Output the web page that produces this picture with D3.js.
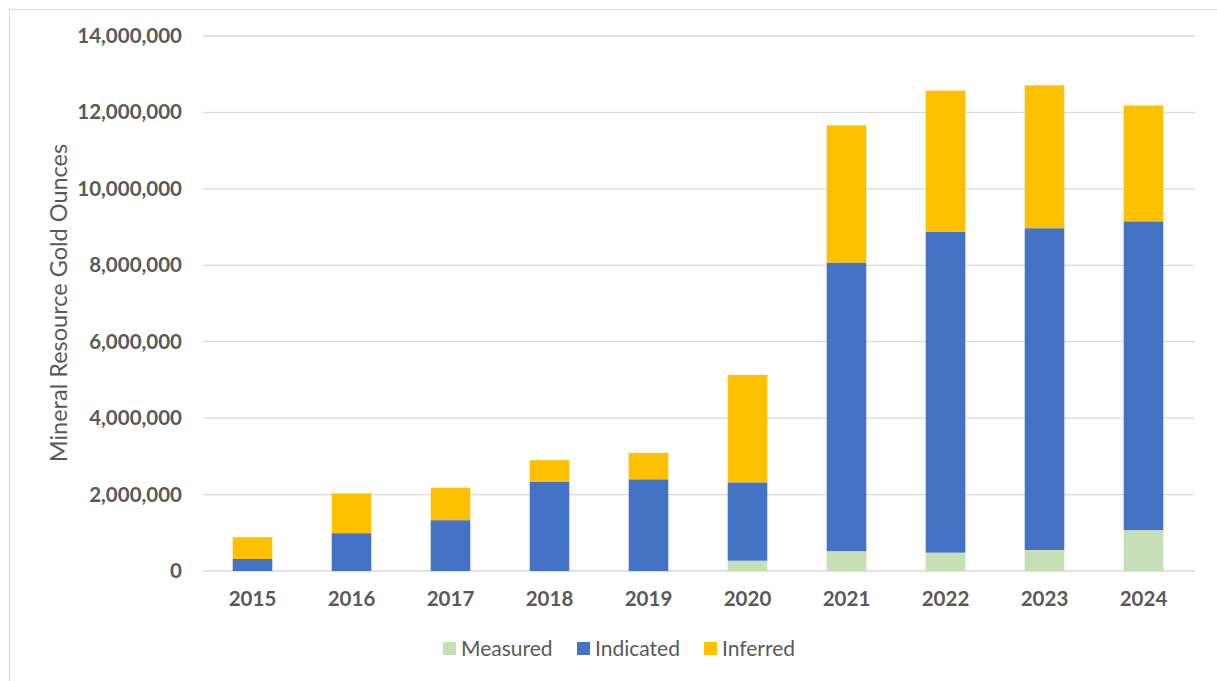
<!DOCTYPE html>
<html><head><meta charset="utf-8">
<script src="https://cdn.jsdelivr.net/npm/d3@7"></script>
<style>body{margin:0;background:#fff;}svg{display:block;}</style>
</head><body>
<svg id="c" width="1217" height="681"></svg>
<script>
const years = ["2015","2016","2017","2018","2019","2020","2021","2022","2023","2024"];
const measured  = [0, 0, 0, 0, 0, 270000, 520000, 480000, 550000, 1070000];
const indicated = [315000, 990000, 1330000, 2340000, 2400000, 2050000, 7550000, 8400000, 8420000, 8080000];
const inferred  = [570000, 1040000, 850000, 560000, 690000, 2810000, 3590000, 3690000, 3740000, 3030000];
const yTicks = [0, 2000000, 4000000, 6000000, 8000000, 10000000, 12000000, 14000000];
const seriesNames = ["Measured", "Indicated", "Inferred"];
const colors = ["#C5E0B4", "#4472C4", "#FFC000"];

const svg = d3.select("#c");
const L = 203, R = 1193, T = 36, B = 571;
const txt = "#595959", font = "Lato, 'Open Sans', sans-serif";

svg.append("rect").attr("x",9.5).attr("y",9.5).attr("width",1217).attr("height",700)
  .attr("fill","none").attr("stroke","#D9D9D9");

const x = d3.scaleBand().domain(years).range([L, R]).paddingInner(0.6).paddingOuter(0.3);
const y = d3.scaleLinear().domain([0, 14000000]).range([B, T]);

// gridlines
svg.append("g").selectAll("line").data(yTicks).join("line")
  .attr("x1", L).attr("x2", R + 2).attr("y1", d => y(d)).attr("y2", d => y(d))
  .attr("stroke", "#D9D9D9").attr("stroke-width", 1.3);

// y axis labels
const yAxis = d3.axisLeft(y).tickValues(yTicks).tickFormat(d3.format(",")).tickSize(0).tickPadding(21);
const gy = svg.append("g").attr("transform", `translate(${L},0)`).call(yAxis);
gy.select(".domain").remove();
gy.selectAll("text").attr("fill", txt).style("font-family", font).style("font-size", "20.5px").style("font-weight", "bold");

// x axis labels
const xAxis = d3.axisBottom(x).tickSize(0).tickPadding(20);
const gx = svg.append("g").attr("transform", `translate(0,${B})`).call(xAxis);
gx.select(".domain").remove();
gx.selectAll("text").attr("fill", txt).style("font-family", font).style("font-size", "20.5px").style("font-weight", "bold");

// stacked bars
const rows = years.map((yr, i) => ({year: yr, Measured: measured[i], Indicated: indicated[i], Inferred: inferred[i]}));
const stack = d3.stack().keys(seriesNames)(rows);
svg.append("g").selectAll("g").data(stack).join("g")
  .attr("fill", (d, i) => colors[i])
  .selectAll("rect").data(d => d).join("rect")
  .attr("x", d => x(d.data.year))
  .attr("width", x.bandwidth())
  .attr("y", d => y(d[1]))
  .attr("height", d => Math.max(0, y(d[0]) - y(d[1])));

// y axis title
svg.append("text").attr("transform", "translate(67,303) rotate(-90)")
  .attr("text-anchor", "middle").attr("fill", txt)
  .style("font-family", font).style("font-size", "23.5px")
  .text("Mineral Resource Gold Ounces");

// legend
const legX = [443, 577, 704];
const lg = svg.append("g").selectAll("g").data(seriesNames).join("g")
  .attr("transform", (d, i) => `translate(${legX[i]},642)`);
lg.append("rect").attr("width", 13).attr("height", 13).attr("fill", (d, i) => colors[i]);
lg.append("text").attr("x", 18).attr("y", 14).attr("fill", txt)
  .style("font-family", font).style("font-size", "21px").text(d => d);
</script>
</body></html>
